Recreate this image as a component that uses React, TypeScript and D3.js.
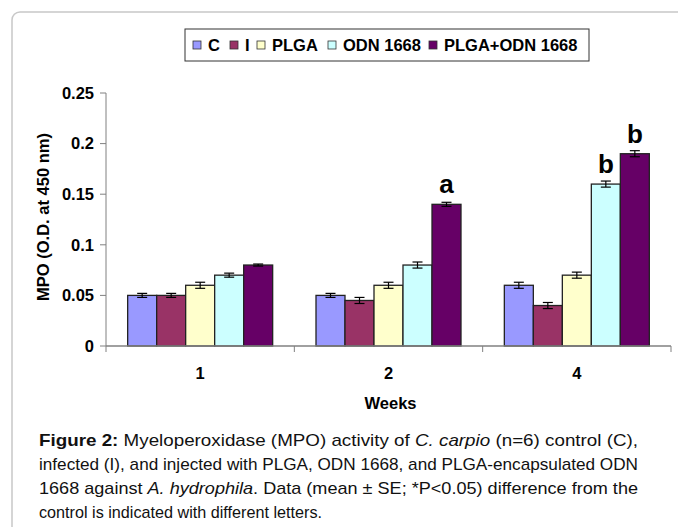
import React from "react";
import * as d3 from "d3";

const weeks = ["1", "2", "4"];
const seriesNames = ["C", "I", "PLGA", "ODN 1668", "PLGA+ODN 1668"];
const seriesColors = ["#9999FF", "#993366", "#FFFFCC", "#CCFFFF", "#660066"];
// values per series, one per week
const valC = [0.05, 0.05, 0.06];
const valI = [0.05, 0.045, 0.04];
const valPLGA = [0.06, 0.06, 0.07];
const valODN = [0.07, 0.08, 0.16];
const valPO = [0.08, 0.14, 0.19];
const errC = [0.002, 0.002, 0.003];
const errI = [0.002, 0.003, 0.003];
const errPLGA = [0.003, 0.003, 0.003];
const errODN = [0.002, 0.003, 0.003];
const errPO = [0.001, 0.002, 0.003];
const letters = [
  { week: "2", series: 4, text: "a" },
  { week: "4", series: 3, text: "b" },
  { week: "4", series: 4, text: "b" },
];
const yTicks = [0, 0.05, 0.1, 0.15, 0.2, 0.25];

const values = [valC, valI, valPLGA, valODN, valPO];
const errors = [errC, errI, errPLGA, errODN, errPO];

const FONT = "'Liberation Sans', Arial, sans-serif";
const FS = 16.5;

export default function App() {
  const left = 106, right = 671, top = 93, bottom = 346;
  const x = d3.scaleBand<string>().domain(weeks).range([left, right]).padding(0);
  const y = d3.scaleLinear().domain([0, 0.25]).range([bottom, top]);
  const groupW = 145;
  const inner = d3
    .scaleBand<number>()
    .domain(d3.range(seriesNames.length))
    .range([0, groupW])
    .padding(0);
  const bw = inner.bandwidth();
  const groupStart = (w: string) => (x(w) as number) + (x.bandwidth() - groupW) / 2;
  const boundaries = [left, ...weeks.map((w) => (x(w) as number) + x.bandwidth())];

  const legendX = [193, 230, 257, 328, 429];

  const capLines: React.ReactNode[] = [
    <>
      <tspan fontWeight="bold">Figure 2:</tspan>
      <tspan> Myeloperoxidase (MPO) activity of </tspan>
      <tspan fontStyle="italic">C. carpio</tspan>
      <tspan> (n=6) control (C),</tspan>
    </>,
    <>infected (I), and injected with PLGA, ODN 1668, and PLGA-encapsulated ODN</>,
    <>
      <tspan>1668 against </tspan>
      <tspan fontStyle="italic">A. hydrophila</tspan>
      <tspan>. Data (mean ± SE; *P&lt;0.05) difference from the</tspan>
    </>,
    <>control is indicated with different letters.</>,
  ];
  const capLens = [599, 599, 599, 283];

  return (
    <svg
      width={678}
      height={527}
      style={{ position: "absolute", left: 0, top: 0, background: "#fff" }}
    >
      <rect x={12} y={12} width={700} height={560} rx={8} fill="#fff" stroke="#c8c8c8" strokeWidth={1.5} />

      {/* legend */}
      <rect x={185} y={29} width={404} height={32} fill="#fff" stroke="#333" strokeWidth={1} />
      {seriesNames.map((s, i) => (
        <g key={s}>
          <rect x={legendX[i]} y={41} width={8} height={8} fill={seriesColors[i]} stroke="#333" strokeWidth={0.8} />
          <text x={legendX[i] + 15} y={51} fontFamily={FONT} fontWeight="bold" fontSize={FS} fill="#000">
            {s}
          </text>
        </g>
      ))}

      {/* y axis */}
      <line x1={left} x2={left} y1={top} y2={bottom} stroke="#808080" strokeWidth={1} />
      {yTicks.map((t) => (
        <g key={t}>
          <line x1={left - 6} x2={left} y1={y(t)} y2={y(t)} stroke="#808080" />
          <text x={left - 12} y={y(t)} dy="0.35em" textAnchor="end" fontFamily={FONT} fontWeight="bold" fontSize={FS}>
            {d3.format("")(t)}
          </text>
        </g>
      ))}
      <text
        transform={`translate(43,${217}) rotate(-90)`}
        textAnchor="middle"
        dy="0.35em"
        fontFamily={FONT}
        fontWeight="bold"
        fontSize={FS}
      >
        MPO (O.D. at 450 nm)
      </text>

      {/* bars */}
      {weeks.map((w, wi) =>
        seriesNames.map((s, si) => {
          const bx = groupStart(w) + (inner(si) as number);
          const v = values[si][wi];
          const e = errors[si][wi];
          const cx = bx + bw / 2;
          return (
            <g key={w + s}>
              <rect x={bx} y={y(v)} width={bw} height={bottom - y(v)} fill={seriesColors[si]} stroke="#222" strokeWidth={1.3} />
              <line x1={cx} x2={cx} y1={y(v + e)} y2={y(v - e)} stroke="#000" strokeWidth={1.2} />
              <line x1={cx - 5} x2={cx + 5} y1={y(v + e)} y2={y(v + e)} stroke="#000" strokeWidth={1.2} />
              <line x1={cx - 5} x2={cx + 5} y1={y(v - e)} y2={y(v - e)} stroke="#000" strokeWidth={1.2} />
            </g>
          );
        })
      )}

      {/* x axis */}
      <line x1={left} x2={right} y1={bottom} y2={bottom} stroke="#808080" strokeWidth={1.5} />
      {boundaries.map((b, i) => (
        <line key={i} x1={b} x2={b} y1={bottom} y2={bottom + 6} stroke="#808080" />
      ))}
      {weeks.map((w) => (
        <text key={w} x={(x(w) as number) + x.bandwidth() / 2} y={373} dy="0.35em" textAnchor="middle" fontFamily={FONT} fontWeight="bold" fontSize={FS}>
          {w}
        </text>
      ))}
      <text x={(left + right) / 2 + 2} y={403} dy="0.35em" textAnchor="middle" fontFamily={FONT} fontWeight="bold" fontSize={FS}>
        Weeks
      </text>

      {/* significance letters */}
      {letters.map((l, i) => {
        const wi = weeks.indexOf(l.week);
        const cx = groupStart(l.week) + (inner(l.series) as number) + bw / 2;
        const v = values[l.series][wi];
        return (
          <text key={i} x={cx} y={y(v) - 11} textAnchor="middle" fontFamily={FONT} fontWeight="bold" fontSize={26}>
            {l.text}
          </text>
        );
      })}

      {/* caption */}
      {capLines.map((c, i) => (
        <text
          key={i}
          x={39}
          y={446 + i * 24}
          fontFamily={FONT}
          fontSize={17}
          fill="#111"
          textLength={capLens[i]}
          lengthAdjust="spacingAndGlyphs"
        >
          {c}
        </text>
      ))}
    </svg>
  );
}
